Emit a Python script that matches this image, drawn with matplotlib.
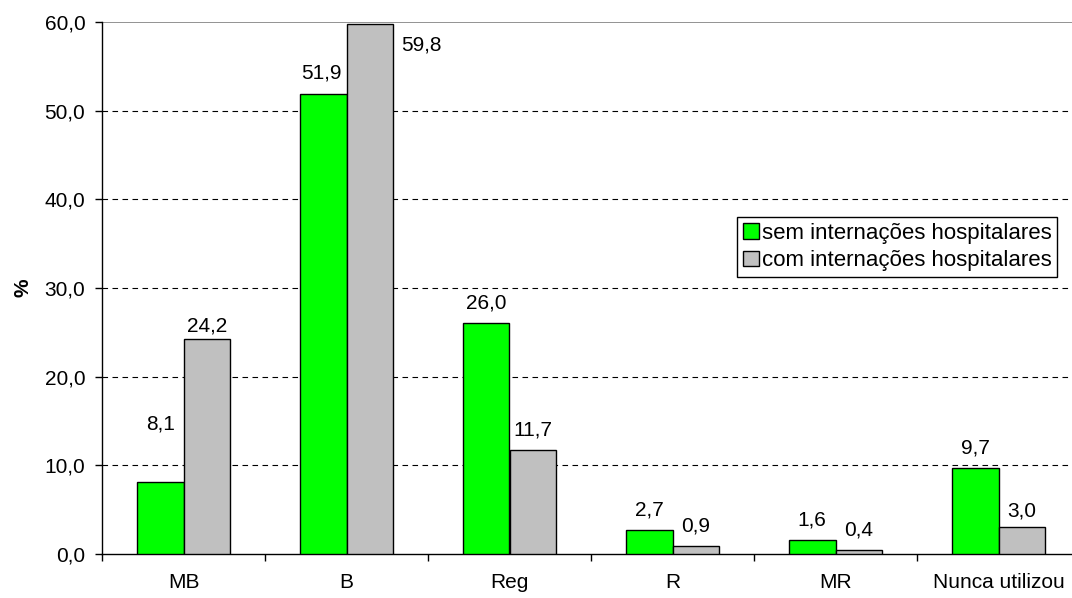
import numpy as np
import matplotlib.pyplot as plt

plt.rcParams['font.family'] = ['Liberation Sans', 'DejaVu Sans']

categories = ['MB', 'B', 'Reg', 'R', 'MR', 'Nunca utilizou']
sem_intern = [8.1, 51.9, 26.0, 2.7, 1.6, 9.7]
com_intern = [24.2, 59.8, 11.7, 0.9, 0.4, 3.0]
series_names = ['sem internações hospitalares', 'com internações hospitalares']

FS = 15

fig = plt.figure(figsize=(10.72, 5.98), dpi=100)
ax = fig.add_axes([102 / 1072, 44 / 598, 978 / 1072, 532 / 598])

x = np.arange(len(categories))
w = 0.285
b1 = ax.bar(x - w / 2, sem_intern, w, color='#00FF00', edgecolor='black', linewidth=1, label=series_names[0], zorder=3)
b2 = ax.bar(x + w / 2, com_intern, w, color='#C0C0C0', edgecolor='black', linewidth=1, label=series_names[1], zorder=3)

# value labels, a few nudged by hand (points offset)
nudge = {(0, 0): (0, 42), (1, 0): (-1, 15), (1, 1): (37, -15), (0, 1): (0, 10), (5, 1): (0, 12)}
for si, bars in enumerate([b1, b2]):
    for ci, rect in enumerate(bars):
        v = rect.get_height()
        dx, dy = nudge.get((ci, si), (0, 14.5))
        ax.annotate(f'{v:.1f}'.replace('.', ','),
                    (rect.get_x() + rect.get_width() / 2, v),
                    xytext=(dx, dy), textcoords='offset points',
                    ha='center', va='center', fontsize=FS)

ax.set_xlim(-0.5, len(categories) - 0.5)
ax.set_ylim(0, 60)
yt = np.arange(0, 61, 10)
ax.set_yticks(yt)
ax.set_yticklabels([f'{t:.1f}'.replace('.', ',') for t in yt], fontsize=FS)
ax.set_xticks(x)
ax.set_xticklabels(categories, fontsize=FS)
ax.tick_params(axis='x', length=0, pad=14)
ax.set_xticks(np.arange(len(categories)) - 0.5, minor=True)
ax.tick_params(axis='x', which='minor', length=5, direction='out', width=1)
ax.tick_params(axis='y', length=5, width=1, direction='out', pad=7)

for t in yt[1:-1]:
    ax.axhline(t, color='black', linestyle=(0, (5, 4)), linewidth=0.8, zorder=1)
ax.axhline(60, color='#808080', linewidth=1.2, zorder=1)

for s in ['top', 'right']:
    ax.spines[s].set_visible(False)
ax.spines['left'].set_linewidth(1)
ax.spines['bottom'].set_linewidth(1)

ax.set_ylabel('%', fontsize=FS, fontweight='bold', labelpad=9)

leg = ax.legend(loc='upper left', bbox_to_anchor=(635 / 978, 1 - 195 / 532),
                fontsize=16, frameon=True, fancybox=False, edgecolor='black',
                framealpha=1, handlelength=0.72, handleheight=0.72,
                handletextpad=0.15, labelspacing=0.3, borderpad=0.25,
                borderaxespad=0)
leg.get_frame().set_linewidth(1)

fig.savefig('out.png', dpi=100)
